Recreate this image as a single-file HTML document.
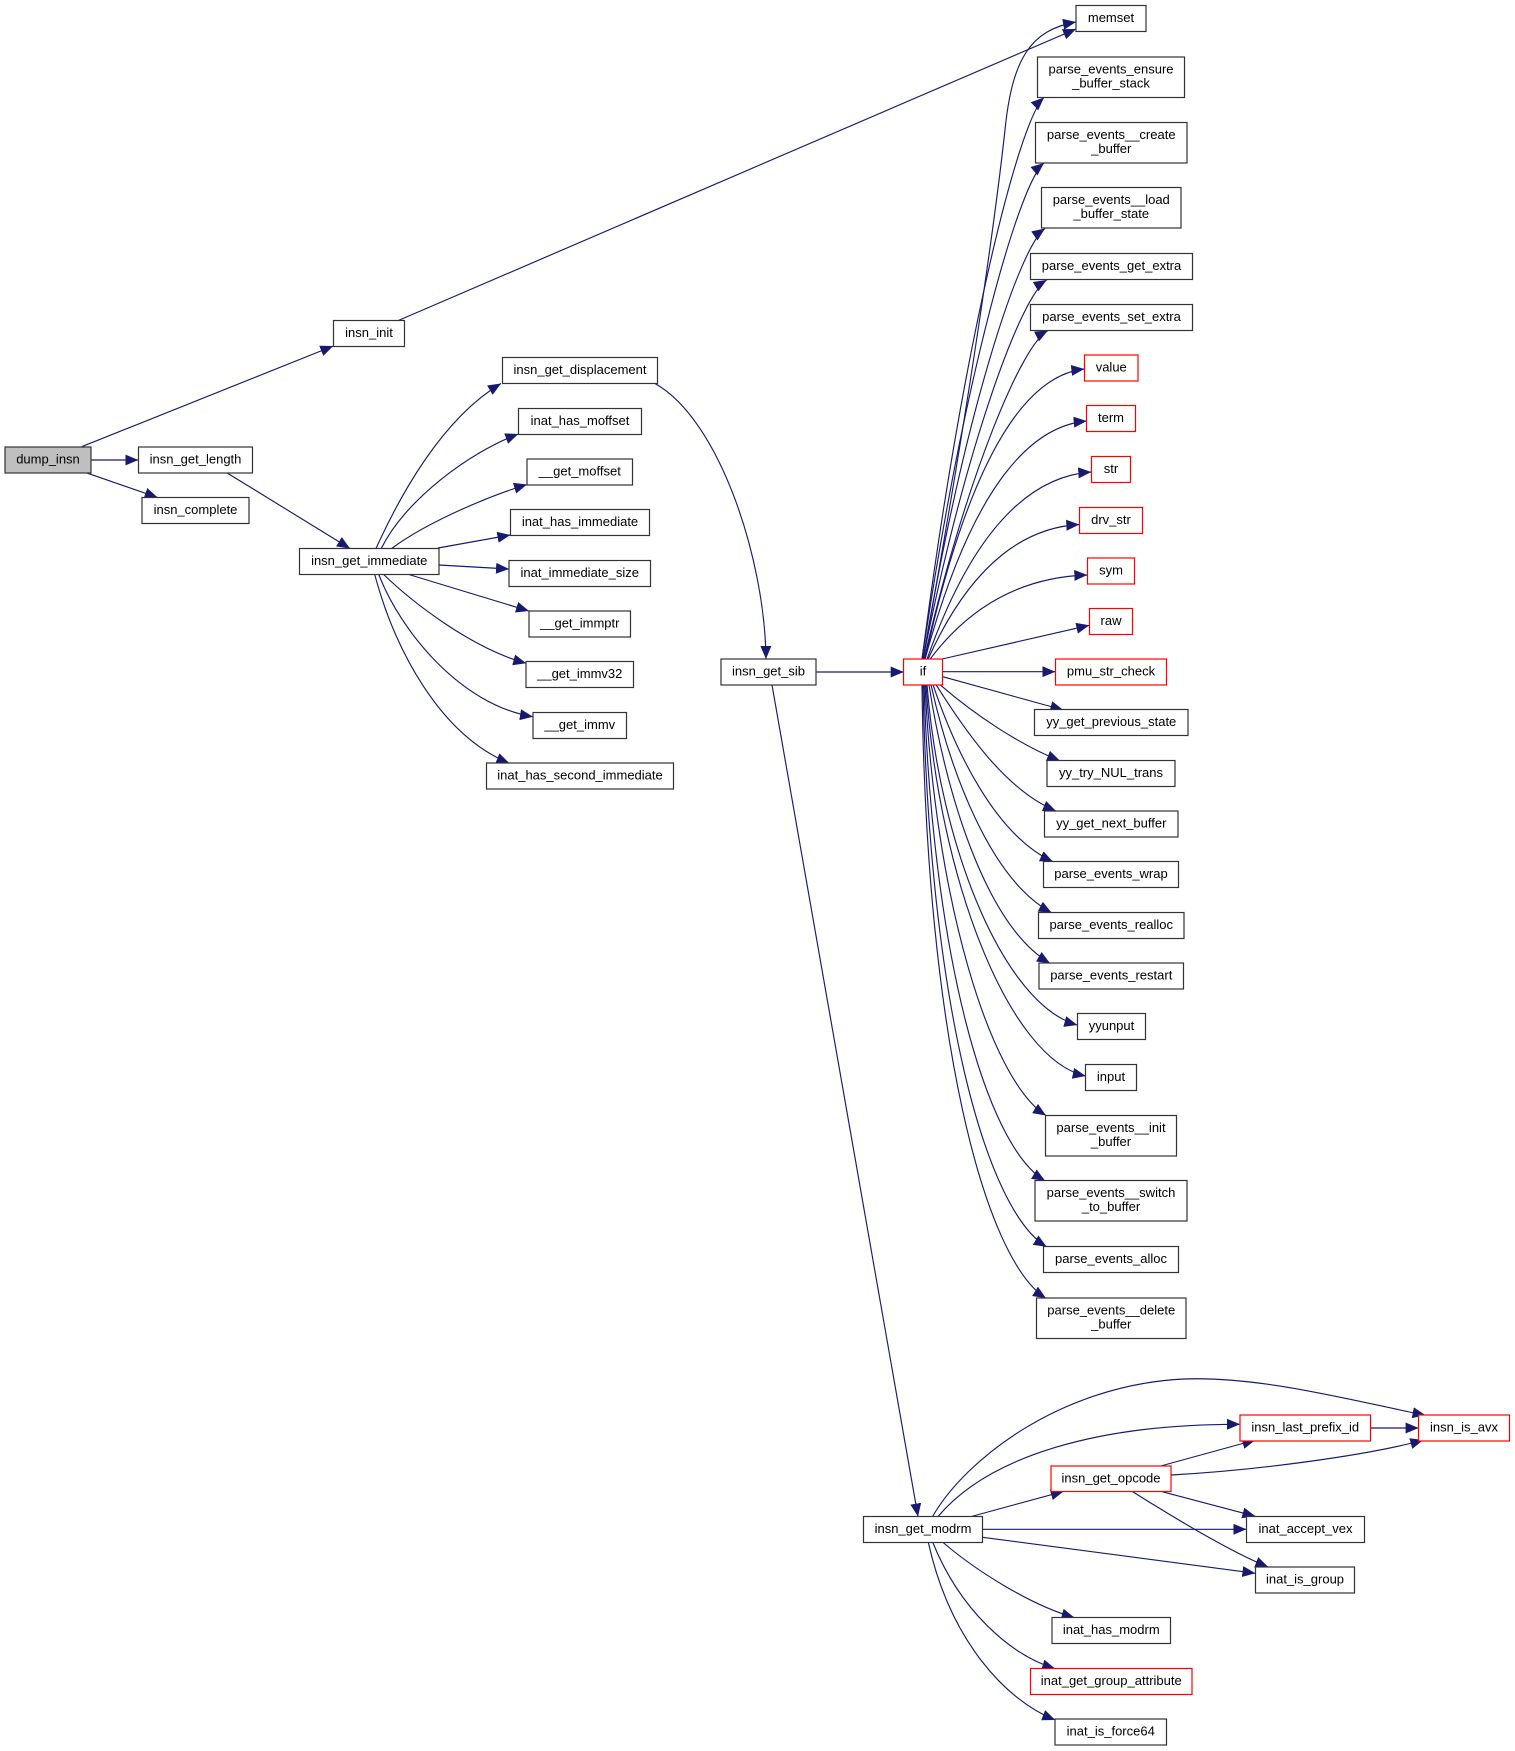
<!DOCTYPE html>
<html><head><meta charset="utf-8"><style>
html,body{margin:0;padding:0;background:#fff;}
svg{display:block;}
text{font-family:"Liberation Sans",Arial,Helvetica,sans-serif;font-size:13px;fill:#000;text-anchor:middle;}
.e{fill:none;stroke:#191970;stroke-width:1.15;marker-end:url(#ah);}
.n{fill:#fff;stroke:#333;stroke-width:1.2;}
.r{fill:#fff;stroke:#ff0000;stroke-width:1.2;}
</style></head><body>
<svg width="1515" height="1751" viewBox="0 0 1515 1751" xmlns="http://www.w3.org/2000/svg">
<defs>
<marker id="ah" markerUnits="userSpaceOnUse" markerWidth="14" markerHeight="12" refX="13" refY="5.5" orient="auto">
<path d="M0,0 L13,5.5 L0,11 z" fill="#191970"/>
</marker>
</defs>
<rect width="1515" height="1751" fill="#fff"/>

<!-- edges -->
<path class="e" d="M81.7,446.7 L333.3,346"/>
<path class="e" d="M90.7,460 L138.3,460"/>
<path class="e" d="M86,472.7 L157.7,497.5"/>
<path class="e" d="M226.7,472.7 L350,548.5"/>
<path class="e" d="M398.3,320.5 L1076,29"/>

<path class="e" d="M376,548.5 C398,500 440,420 501,383.5"/>
<path class="e" d="M381.3,548.5 C405,500 470,452 518.3,434"/>
<path class="e" d="M391.6,548.5 C430,520 495,494 527,484.5"/>
<path class="e" d="M438,548 L510.4,535"/>
<path class="e" d="M438.8,565 L509,569"/>
<path class="e" d="M408.8,574.5 L529,611"/>
<path class="e" d="M383.7,574.5 C410,600 470,648 526.2,663.3"/>
<path class="e" d="M378.8,574.5 C400,630 460,705 533,716.7"/>
<path class="e" d="M374.7,574.5 C395,650 440,735 509.4,763.3"/>

<path class="e" d="M655,383.5 C720,420 765,560 766,659"/>
<path class="e" d="M816,672 L903.7,672"/>
<path class="e" d="M772,685 L918,1516.5"/>

<!-- if -> upper -->
<path class="e" d="M923,659.3 C970,400 995,220 1005,130 C1012,60 1030,30 1076,22"/>
<path class="e" d="M922,659.3 C965,330 1019.6,120 1044,97.5"/>
<path class="e" d="M922,659.3 C965,370 1019.6,183 1044,163"/>
<path class="e" d="M923,659.3 C966,405 1020.4,245.7 1045,228.5"/>
<path class="e" d="M923,659.3 C967,440 1021.8,295 1046.7,280"/>
<path class="e" d="M924,659.3 C968,470 1022.8,343.6 1048,330.5"/>
<path class="e" d="M925,659.3 C972.8,441.5 1031.7,374.8 1084.3,369"/>
<path class="e" d="M925,659.3 C973.5,480.5 1033.3,425.8 1086.7,421"/>
<path class="e" d="M927,659.3 C976.3,518.8 1037,475.7 1091.3,472"/>
<path class="e" d="M928,659.3 C973.4,558.2 1029.4,527.2 1079.3,524.5"/>
<path class="e" d="M930,659.3 C977.2,596 1035.4,576.7 1087.3,575"/>
<path class="e" d="M940,659.5 L1089.3,625.3"/>
<path class="e" d="M942.3,671.7 L1055.3,671.7"/>
<path class="e" d="M942.7,676.7 L1063.3,710"/>

<!-- if -> lower -->
<path class="e" d="M940,684.7 C975,715 1020,745 1060,760.8"/>
<path class="e" d="M936,684.7 C965,730 1005,790 1056,811"/>
<path class="e" d="M933,684.7 C955,750 995,835 1053,861.7"/>
<path class="e" d="M931,684.7 C950,770 990,880 1051.7,912.7"/>
<path class="e" d="M929,684.7 C945,790 985,925 1050,963.3"/>
<path class="e" d="M927,684.7 C940,850 1005,1005 1077.3,1025"/>
<path class="e" d="M926,684.7 C938,880 1010,1060 1085.7,1076"/>
<path class="e" d="M925,684.7 C935,900 990,1080 1046,1115.5"/>
<path class="e" d="M924,684.7 C932,950 985,1145 1045,1180.8"/>
<path class="e" d="M923,684.7 C929,1000 985,1210 1046.7,1246.8"/>
<path class="e" d="M922,684.7 C926,1040 985,1260 1046,1298.2"/>

<!-- bottom block -->
<path class="e" d="M932.6,1516.5 C965,1460 1060,1385 1184,1379 C1260,1376 1350,1400 1425.5,1415.3"/>
<path class="e" d="M938,1516.5 C990,1455 1100,1424 1240,1424.3"/>
<path class="e" d="M971.3,1516.5 L1063.8,1491.3"/>
<path class="e" d="M982.5,1529.3 L1246.4,1529.3"/>
<path class="e" d="M982.5,1537.3 L1255.4,1573.3"/>
<path class="e" d="M942.5,1542 C975,1570 1030,1605 1074.6,1617.7"/>
<path class="e" d="M932.6,1542 C960,1610 1010,1655 1055.2,1668.7"/>
<path class="e" d="M928.2,1542 C950,1640 1005,1700 1055.2,1720"/>
<path class="e" d="M1160.7,1466 L1255.4,1440"/>
<path class="e" d="M1171,1475 C1260,1470 1370,1455 1423.3,1440"/>
<path class="e" d="M1160.7,1491.3 L1255.4,1516.3"/>
<path class="e" d="M1131.9,1491.3 C1170,1515 1230,1552 1268.3,1567"/>
<path class="e" d="M1370.3,1428 L1418.6,1428"/>

<!-- nodes -->
<rect x="5" y="447" width="86" height="26" fill="#bfbfbf" stroke="#333" stroke-width="1.2"/><text x="48" y="463.5">dump_insn</text>
<rect class="n" x="138.5" y="447" width="114" height="26"/><text x="195.5" y="463.5">insn_get_length</text>
<rect class="n" x="142" y="497.5" width="107" height="26"/><text x="195.5" y="514">insn_complete</text>
<rect class="n" x="333.5" y="320.5" width="71" height="26"/><text x="369" y="337">insn_init</text>
<rect class="n" x="299.5" y="548.5" width="139.5" height="26"/><text x="369.25" y="565">insn_get_immediate</text>

<rect class="n" x="502.5" y="357.5" width="155" height="26"/><text x="580" y="374">insn_get_displacement</text>
<rect class="n" x="518.5" y="408.5" width="123" height="26"/><text x="580" y="425">inat_has_moffset</text>
<rect class="n" x="527" y="459" width="105.5" height="26"/><text x="579.75" y="475.5">__get_moffset</text>
<rect class="n" x="510.5" y="509.5" width="139" height="26"/><text x="580" y="526">inat_has_immediate</text>
<rect class="n" x="509" y="560.5" width="141.5" height="26"/><text x="579.75" y="577">inat_immediate_size</text>
<rect class="n" x="529" y="611" width="101.5" height="26"/><text x="579.75" y="627.5">__get_immptr</text>
<rect class="n" x="526" y="661.5" width="107.5" height="26"/><text x="579.75" y="678">__get_immv32</text>
<rect class="n" x="533" y="712.5" width="93.5" height="26"/><text x="579.75" y="729">__get_immv</text>
<rect class="n" x="486.5" y="763" width="187" height="26"/><text x="580" y="779.5">inat_has_second_immediate</text>

<rect class="n" x="721" y="659" width="95" height="26"/><text x="768.5" y="675.5">insn_get_sib</text>
<rect class="r" x="903.5" y="659" width="39" height="26"/><text x="923" y="675.5">if</text>
<rect class="n" x="863.5" y="1516.5" width="119" height="26"/><text x="923" y="1533">insn_get_modrm</text>

<rect class="n" x="1076" y="5.5" width="70" height="26"/><text x="1111" y="22">memset</text>
<rect class="n" x="1037.5" y="57" width="147" height="40.5"/><text x="1111" y="73.3">parse_events_ensure</text><text x="1111" y="87.7">_buffer_stack</text>
<rect class="n" x="1035.5" y="122.5" width="151.5" height="40.5"/><text x="1111.25" y="138.8">parse_events__create</text><text x="1111.25" y="153.2">_buffer</text>
<rect class="n" x="1041.5" y="187.5" width="139.5" height="40.5"/><text x="1111.25" y="203.8">parse_events__load</text><text x="1111.25" y="218.2">_buffer_state</text>
<rect class="n" x="1030.5" y="253.5" width="162" height="26"/><text x="1111.5" y="270">parse_events_get_extra</text>
<rect class="n" x="1030.5" y="304.5" width="162" height="26"/><text x="1111.5" y="321">parse_events_set_extra</text>
<rect class="r" x="1084.5" y="355" width="53.5" height="26"/><text x="1111.25" y="371.5">value</text>
<rect class="r" x="1086.5" y="405.5" width="49" height="26"/><text x="1111" y="422">term</text>
<rect class="r" x="1091.5" y="456.5" width="39" height="26"/><text x="1111" y="473">str</text>
<rect class="r" x="1079.5" y="507.5" width="63" height="26"/><text x="1111" y="524">drv_str</text>
<rect class="r" x="1087.5" y="558" width="47" height="26"/><text x="1111" y="574.5">sym</text>
<rect class="r" x="1089.5" y="608.5" width="43" height="26"/><text x="1111" y="625">raw</text>
<rect class="r" x="1055.5" y="659" width="111" height="26"/><text x="1111" y="675.5">pmu_str_check</text>
<rect class="n" x="1034.5" y="709.5" width="153.5" height="26"/><text x="1111.25" y="726">yy_get_previous_state</text>
<rect class="n" x="1047" y="760.5" width="128" height="26"/><text x="1111" y="777">yy_try_NUL_trans</text>
<rect class="n" x="1044.5" y="811" width="133.5" height="26"/><text x="1111.25" y="827.5">yy_get_next_buffer</text>
<rect class="n" x="1043.5" y="861.5" width="135" height="26"/><text x="1111" y="878">parse_events_wrap</text>
<rect class="n" x="1038.5" y="912.5" width="145.5" height="26"/><text x="1111.25" y="929">parse_events_realloc</text>
<rect class="n" x="1039" y="963" width="144.5" height="26"/><text x="1111.25" y="979.5">parse_events_restart</text>
<rect class="n" x="1077.5" y="1013.5" width="68" height="26"/><text x="1111.5" y="1030">yyunput</text>
<rect class="n" x="1085.5" y="1064.5" width="51" height="26"/><text x="1111" y="1081">input</text>
<rect class="n" x="1045.5" y="1115.5" width="131" height="40.5"/><text x="1111" y="1131.8">parse_events__init</text><text x="1111" y="1146.2">_buffer</text>
<rect class="n" x="1035" y="1180.5" width="152" height="40.5"/><text x="1111" y="1196.8">parse_events__switch</text><text x="1111" y="1211.2">_to_buffer</text>
<rect class="n" x="1043.5" y="1246.5" width="135" height="26"/><text x="1111" y="1263">parse_events_alloc</text>
<rect class="n" x="1036.5" y="1298" width="149.5" height="40.5"/><text x="1111.25" y="1314.3">parse_events__delete</text><text x="1111.25" y="1328.7">_buffer</text>

<rect class="r" x="1051" y="1466" width="120" height="25.5"/><text x="1111" y="1482.3">insn_get_opcode</text>
<rect class="r" x="1240" y="1415" width="130.5" height="26"/><text x="1305.25" y="1431.5">insn_last_prefix_id</text>
<rect class="r" x="1418.5" y="1415" width="91" height="26"/><text x="1464" y="1431.5">insn_is_avx</text>
<rect class="n" x="1246.5" y="1516.5" width="118" height="26"/><text x="1305.5" y="1533">inat_accept_vex</text>
<rect class="n" x="1255.5" y="1567" width="99" height="26"/><text x="1305" y="1583.5">inat_is_group</text>
<rect class="n" x="1052" y="1617.5" width="118.5" height="26"/><text x="1111.25" y="1634">inat_has_modrm</text>
<rect class="r" x="1030.5" y="1668.5" width="161.5" height="26"/><text x="1111.25" y="1685">inat_get_group_attribute</text>
<rect class="n" x="1055" y="1719" width="111.5" height="26"/><text x="1110.75" y="1735.5">inat_is_force64</text>
</svg>
</body></html>
